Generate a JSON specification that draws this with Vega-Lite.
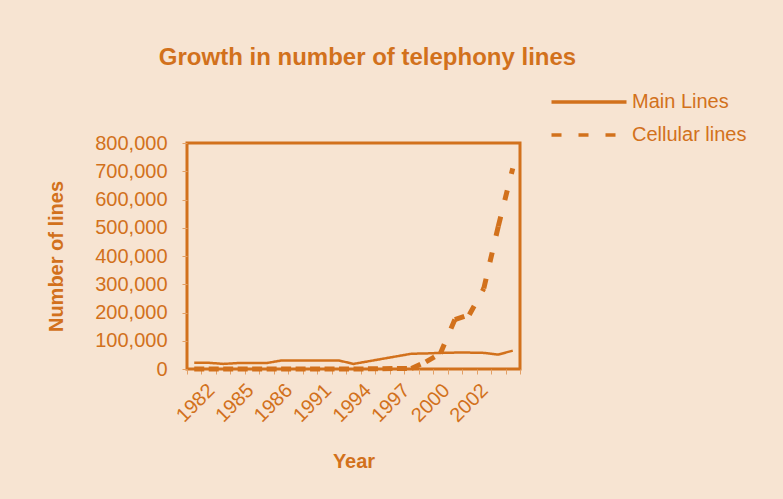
{
  "$schema": "https://vega.github.io/schema/vega-lite/v6.json",
  "width": 333,
  "height": 226,
  "autosize": {"type": "none"},
  "padding": {"left": 187, "top": 143, "right": 263, "bottom": 130},
  "background": "#F7E4D2",
  "title": {
    "text": "Growth in number of telephony lines",
    "anchor": "middle",
    "dx": 14,
    "offset": 22,
    "font": "Liberation Sans",
    "fontSize": 24,
    "fontWeight": "bold",
    "color": "#D2711C"
  },
  "data": {
    "values": [
      {"point": 1, "main": 22000, "cellular": 0},
      {"point": 2, "main": 22000, "cellular": 0},
      {"point": 3, "main": 18000, "cellular": 0},
      {"point": 4, "main": 21000, "cellular": 0},
      {"point": 5, "main": 21000, "cellular": 0},
      {"point": 6, "main": 21000, "cellular": 0},
      {"point": 7, "main": 30000, "cellular": 0},
      {"point": 8, "main": 30000, "cellular": 0},
      {"point": 9, "main": 30000, "cellular": 0},
      {"point": 10, "main": 30000, "cellular": 0},
      {"point": 11, "main": 30000, "cellular": 0},
      {"point": 12, "main": 18000, "cellular": 0},
      {"point": 13, "main": 27000, "cellular": 500},
      {"point": 14, "main": 36000, "cellular": 1000},
      {"point": 15, "main": 45000, "cellular": 1500},
      {"point": 16, "main": 54000, "cellular": 2000},
      {"point": 17, "main": 55000, "cellular": 25000},
      {"point": 18, "main": 57000, "cellular": 55000},
      {"point": 19, "main": 58000, "cellular": 175000},
      {"point": 20, "main": 58000, "cellular": 192000},
      {"point": 21, "main": 57000, "cellular": 285000},
      {"point": 22, "main": 51000, "cellular": 505000},
      {"point": 23, "main": 65000, "cellular": 710000}
    ]
  },
  "layer": [
    {
      "mark": {"type": "line", "color": "#D2711C", "strokeWidth": 2.5, "strokeCap": "butt"},
      "encoding": {
        "x": {
          "field": "point",
          "type": "quantitative",
          "scale": {"domain": [0.5, 23.5], "nice": false, "zero": false},
          "axis": {
            "orient": "bottom",
            "values": [0.5, 1.5, 2.5, 3.5, 4.5, 5.5, 6.5, 7.5, 8.5, 9.5, 10.5, 11.5, 12.5, 13.5, 14.5, 15.5, 16.5, 17.5, 18.5, 19.5, 20.5, 21.5, 22.5, 23.5],
            "labels": false,
            "domain": false,
            "grid": false,
            "ticks": true,
            "tickSize": 5,
            "tickColor": "#E3A066",
            "tickWidth": 1,
            "title": null
          }
        },
        "y": {
          "field": "main",
          "type": "quantitative",
          "scale": {"domain": [0, 800000], "nice": false},
          "axis": {
            "values": [0, 100000, 200000, 300000, 400000, 500000, 600000, 700000, 800000],
            "format": ",.0f",
            "labelOverlap": false,
            "domain": false,
            "grid": false,
            "tickSize": 5,
            "tickColor": "#E3A066",
            "labelPadding": 15,
            "labelFont": "Liberation Sans",
            "labelFontSize": 20,
            "labelColor": "#D2711C",
            "title": "Number of lines",
            "titleFont": "Liberation Sans",
            "titleFontSize": 20,
            "titleFontWeight": "bold",
            "titleColor": "#D2711C",
            "titlePadding": 28
          }
        },
        "strokeDash": {
          "datum": "Main Lines",
          "type": "nominal",
          "scale": {"domain": ["Main Lines", "Cellular lines"], "range": [[1, 0], [10, 17]]},
          "legend": {
            "orient": "none",
            "legendX": 392,
            "legendY": -51,
            "title": null,
            "padding": 0,
            "symbolType": "M-5,0H5",
            "symbolSize": 225,
            "symbolStrokeColor": "#D2711C",
            "symbolStrokeWidth": 3.5,
            "labelOffset": 33,
            "labelFont": "Liberation Sans",
            "labelFontSize": 20,
            "labelColor": "#D2711C",
            "rowPadding": 13,
            "encode": {
              "symbols": {
                "update": {
                  "strokeDash": {"signal": "datum.value === 'Cellular lines' ? [11, 20] : [1, 0]"}
                }
              }
            }
          }
        }
      }
    },
    {
      "transform": [
        {
          "window": [
            {"op": "lead", "field": "cellular", "as": "next_cellular"},
            {"op": "lead", "field": "point", "as": "next_point"}
          ],
          "sort": [{"field": "point"}]
        },
        {"filter": "datum.next_point != null"}
      ],
      "mark": {"type": "rule", "color": "#D2711C", "strokeWidth": 5, "strokeCap": "butt"},
      "encoding": {
        "x": {
          "field": "point",
          "type": "quantitative",
          "axis": {
            "orient": "bottom",
            "values": [2.16, 4.86, 7.53, 10.23, 12.97, 15.64, 18.39, 21.04],
            "labelExpr": "datum.value < 3 ? '1982' : datum.value < 6 ? '1985' : datum.value < 9 ? '1986' : datum.value < 11 ? '1991' : datum.value < 14 ? '1994' : datum.value < 17 ? '1997' : datum.value < 20 ? '2000' : '2002'",
            "labelOverlap": false,
            "ticks": false,
            "tickSize": 0,
            "domain": false,
            "grid": false,
            "labelAngle": -45,
            "labelAlign": "right",
            "labelBaseline": "middle",
            "labelPadding": 18,
            "labelFont": "Liberation Sans",
            "labelFontSize": 20,
            "labelColor": "#D2711C",
            "title": "Year",
            "titleFont": "Liberation Sans",
            "titleFontSize": 20,
            "titleFontWeight": "bold",
            "titleColor": "#D2711C",
            "titlePadding": 26
          }
        },
        "x2": {"field": "next_point"},
        "y": {
          "field": "cellular",
          "type": "quantitative",
          "axis": {
            "values": [0, 100000, 200000, 300000, 400000, 500000, 600000, 700000, 800000],
            "format": ",.0f",
            "labelOverlap": false,
            "domain": false,
            "grid": false,
            "tickSize": 5,
            "tickColor": "#E3A066",
            "labelPadding": 15,
            "labelFont": "Liberation Sans",
            "labelFontSize": 20,
            "labelColor": "#D2711C",
            "title": "Number of lines",
            "titleFont": "Liberation Sans",
            "titleFontSize": 20,
            "titleFontWeight": "bold",
            "titleColor": "#D2711C",
            "titlePadding": 28
          }
        },
        "y2": {"field": "next_cellular"},
        "strokeDash": {"datum": "Cellular lines", "type": "nominal"}
      }
    }
  ],
  "resolve": {"axis": {"x": "independent"}},
  "config": {
    "view": {"stroke": "#D2711C", "strokeWidth": 3}
  }
}
